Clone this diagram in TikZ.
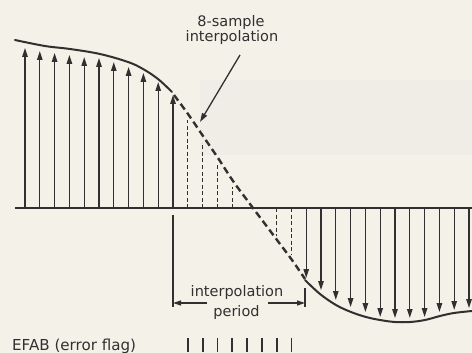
\documentclass[tikz,border=0pt]{standalone}
\usepackage{fontspec}
\setmainfont{DejaVu Sans}
\usetikzlibrary{arrows.meta}
\definecolor{ink}{HTML}{303030}
\definecolor{paper}{HTML}{F4F1E8}
\definecolor{band}{HTML}{EFEDE6}
\begin{document}
\begin{tikzpicture}[x=1pt,y=-1pt,
  samplearrow/.style={draw=ink, line width=1.3pt, -{Triangle[length=9pt,width=5.5pt]}},
  interp/.style={draw=ink, line width=1.3pt, dash pattern=on 4pt off 2.5pt},
  curvestyle/.style={draw=ink, line width=2pt, line cap=round},
  dcurve/.style={draw=ink, line width=2.4pt, dash pattern=on 7pt off 4pt},
  axisline/.style={draw=ink, line width=1.6pt},
  thinline/.style={draw=ink, line width=1.3pt},
  dimarrow/.style={draw=ink, line width=1.3pt, -{Triangle[length=8pt,width=5pt]}},
  pointer/.style={draw=ink, line width=1.3pt, -{Triangle[length=9pt,width=5.5pt]}},
  flagtick/.style={draw=ink, line width=1.8pt},
  lbl/.style={text=ink, font=\fontsize{14.5}{17}\selectfont, inner sep=0pt}
]
\useasboundingbox (0,0) rectangle (472,353);
\fill[paper] (0,0) rectangle (472,353);
\fill[band] (200,80) rectangle (472,155);

% axis
\coordinate (axL) at (15,208);
\coordinate (axR) at (472,208);
\draw[axisline] (axL) -- (axR);

% real samples (positive)
\foreach \k/\ty in {0/48,1/51,2/53,3/55,4/57,5/58,6/62,7/67,8/73,9/82,10/95}{
  \coordinate (ub\k) at ({25+14.8*\k},208);
  \coordinate (ut\k) at ({25+14.8*\k},\ty);
  \draw[samplearrow] (ub\k) -- (ut\k);
}
% real samples (negative)
\foreach \k/\ty in {19/278,20/290,21/300,22/307,23/312,24/317,25/318,26/318,27/317,28/312,29/310,30/308}{
  \coordinate (db\k) at ({25+14.8*\k},208);
  \coordinate (dt\k) at ({25+14.8*\k},\ty);
  \draw[samplearrow] (db\k) -- (dt\k);
}
% interpolated samples
\foreach \k/\ty in {11/120,12/143,13/164,14/187,17/236,18/255}{
  \coordinate (ib\k) at ({25+14.8*\k},208);
  \coordinate (it\k) at ({25+14.8*\k},\ty);
  \draw[interp] (ib\k) -- (it\k);
}

% signal curve
\draw[curvestyle] plot[smooth, tension=0.6] coordinates {(15,40) (45,46) (70,49) (100,54) (128,62) (143,69) (158,79) (172,92)};
\draw[dcurve] plot[smooth, tension=0.6] coordinates {(174,95) (188,114) (203,136) (218,158) (233,181) (247,200) (262,220) (277,240) (292,260) (305,279)};
\draw[curvestyle] plot[smooth, tension=0.6] coordinates {(305,280) (320,294) (336,305) (351,312) (366,317) (380,320) (395,322) (410,322) (425,320) (440,316) (454,313) (472,311)};

% top label and pointer
\node[lbl, anchor=base] (lab8) at (231,26.5) {8-sample};
\node[lbl, anchor=base] (labi) at (232,41.5) {interpolation};
\coordinate (pstart) at (240,55);
\coordinate (pend) at (200,122);
\draw[pointer] (pstart) -- (pend);

% interpolation period
\coordinate (pl1) at (173,215);
\coordinate (pl2) at (173,307);
\coordinate (pr1) at (305,288);
\coordinate (pr2) at (305,307);
\draw[thinline] (pl1) -- (pl2);
\draw[thinline] (pr1) -- (pr2);
\node[lbl, anchor=base] (ipl) at (237,296.5) {interpolation};
\node[lbl, anchor=base] (ppl) at (236.5,316.5) {period};
\coordinate (al) at (207,303);
\coordinate (alt) at (173,303);
\coordinate (ar) at (268,303);
\coordinate (art) at (305,303);
\draw[dimarrow] (al) -- (alt);
\draw[dimarrow] (ar) -- (art);

% error flag
\node[lbl, font=\fontsize{15.1}{17}\selectfont, anchor=base west] (efab) at (12,350) {EFAB (error flag)};
\foreach \k in {11,...,18}{
  \coordinate (fa\k) at ({25+14.8*\k},338);
  \coordinate (fb\k) at ({25+14.8*\k},352);
  \draw[flagtick] (fa\k) -- (fb\k);
}
\end{tikzpicture}
\end{document}
